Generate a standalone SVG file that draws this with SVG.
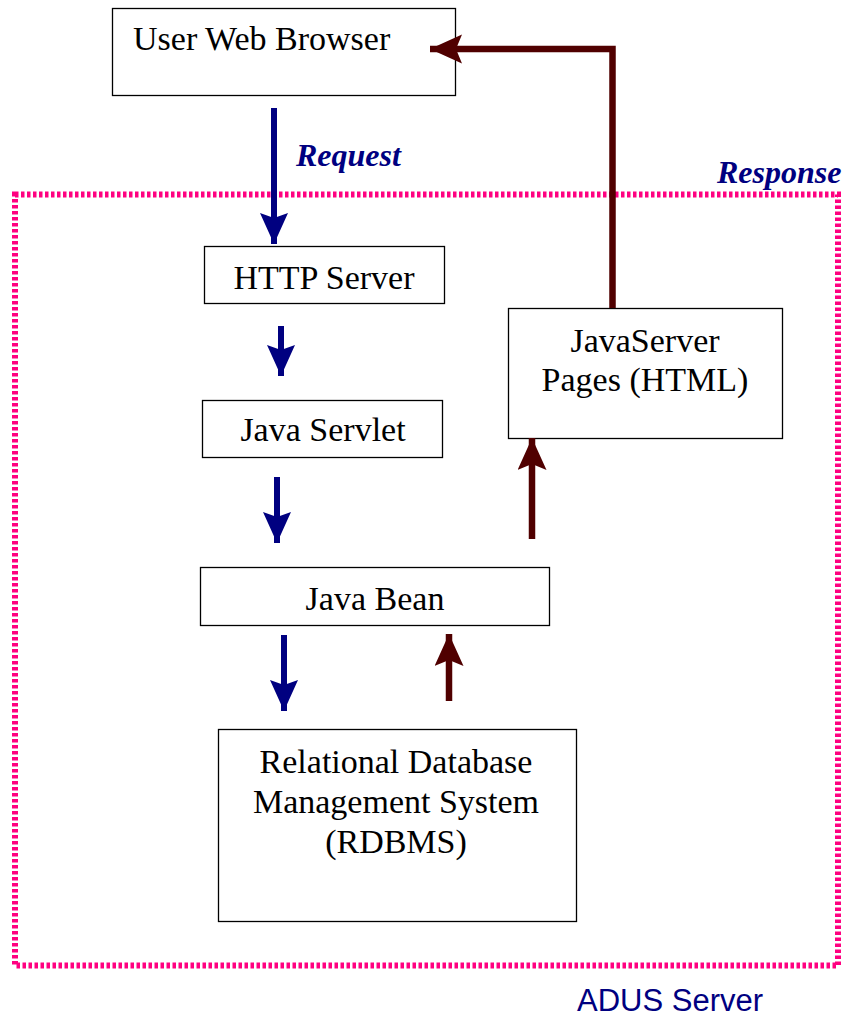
<svg xmlns="http://www.w3.org/2000/svg" width="847" height="1021" viewBox="0 0 847 1021">
<style>
.box{fill:#ffffff;stroke:#000000;stroke-width:1.3}
.lbl{font-family:"Liberation Serif","Times New Roman",serif;font-size:34px;fill:#000000}
.mid{text-anchor:middle}
.tag{font-family:"Liberation Serif","Times New Roman",serif;font-size:32px;font-weight:bold;font-style:italic;fill:#000080}
.req{fill:none;stroke:#000080;stroke-width:6}
.rsp{fill:none;stroke:#500000;stroke-width:6.5;stroke-linejoin:miter}
.border{fill:none;stroke:#ff0080;stroke-width:6;stroke-dasharray:3.5 2.5}
</style>
<defs>
<marker id="headBlue" markerUnits="userSpaceOnUse" markerWidth="32" markerHeight="30" refX="31" refY="14" orient="auto" viewBox="0 0 32 30">
<path d="M0,0 L31,14 L0,28 L5,14 Z" fill="#000080"/>
</marker>
<marker id="headRed" markerUnits="userSpaceOnUse" markerWidth="34" markerHeight="31" refX="32" refY="14.5" orient="auto" viewBox="0 0 34 31">
<path d="M0,0 L32,14.5 L0,29 L6,14.5 Z" fill="#500000"/>
</marker>
</defs>
<rect width="847" height="1021" fill="#ffffff"/>
<g id="server-boundary">
<rect class="border" x="15" y="194.5" width="823" height="771"/>
<text x="577" y="1011" font-family="'Liberation Sans',Arial,sans-serif" font-size="31" fill="#000080">ADUS Server</text>
</g>
<g id="browser">
<rect class="box" x="112.5" y="8.5" width="343" height="87"/>
<text class="lbl" x="133" y="50">User Web Browser</text>
</g>
<g id="http-server">
<rect class="box" x="204.5" y="246.5" width="240" height="57"/>
<text class="lbl mid" x="324" y="289">HTTP Server</text>
</g>
<g id="java-servlet">
<rect class="box" x="202.5" y="400.5" width="240" height="57"/>
<text class="lbl mid" x="323" y="441">Java Servlet</text>
</g>
<g id="java-bean">
<rect class="box" x="200.5" y="567.5" width="349" height="58"/>
<text class="lbl mid" x="375" y="610">Java Bean</text>
</g>
<g id="jsp">
<rect class="box" x="508.5" y="308.5" width="274" height="130"/>
<text class="lbl mid" x="645" y="352">JavaServer</text>
<text class="lbl mid" x="645" y="391">Pages (HTML)</text>
</g>
<g id="rdbms">
<rect class="box" x="218.5" y="729.5" width="358" height="192"/>
<text class="lbl mid" x="396" y="773">Relational Database</text>
<text class="lbl mid" x="396" y="813">Management System</text>
<text class="lbl mid" x="396" y="853">(RDBMS)</text>
</g>
<g id="connectors">
<line class="req" x1="274" y1="108" x2="274" y2="244" marker-end="url(#headBlue)"/>
<line class="req" x1="281" y1="326" x2="281" y2="376" marker-end="url(#headBlue)"/>
<line class="req" x1="277" y1="477" x2="277" y2="543" marker-end="url(#headBlue)"/>
<line class="req" x1="284" y1="635" x2="284" y2="711" marker-end="url(#headBlue)"/>
<line class="rsp" x1="449" y1="701" x2="449" y2="634" marker-end="url(#headRed)"/>
<line class="rsp" x1="532" y1="539" x2="532" y2="438" marker-end="url(#headRed)"/>
<polyline class="rsp" points="612.5,308 612.5,49 430,49" marker-end="url(#headRed)"/>
<text class="tag" x="296" y="166">Request</text>
<text class="tag" x="717" y="183">Response</text>
</g>
</svg>
